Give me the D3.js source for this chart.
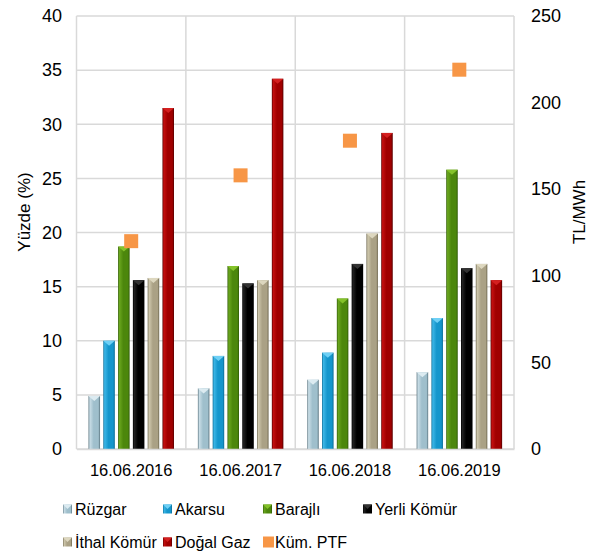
<!DOCTYPE html>
<html>
<head>
<meta charset="utf-8">
<script src="https://cdn.jsdelivr.net/npm/d3@7"></script>
<style>
  body { margin: 0; background: #fff; }
  svg { display: block; font-family: "Liberation Sans", Arial, sans-serif; }
</style>
</head>
<body>
<svg id="chart"></svg>
<script>
// data
const categories = ['16.06.2016', '16.06.2017', '16.06.2018', '16.06.2019']
const seriesNames = ['Rüzgar', 'Akarsu', 'Barajlı', 'Yerli Kömür', 'İthal Kömür', 'Doğal Gaz']
const ruzgar = [4.9, 5.6, 6.4, 7.1]
const akarsu = [10.0, 8.6, 8.9, 12.1]
const barajli = [18.7, 16.9, 13.9, 25.8]
const yerliKomur = [15.6, 15.3, 17.1, 16.7]
const ithalKomur = [15.8, 15.6, 19.9, 17.1]
const dogalGaz = [31.5, 34.2, 29.2, 15.6]
const kumPtf = [120, 158, 178, 219]
const leftTicks = [0, 5, 10, 15, 20, 25, 30, 35, 40]
const rightTicks = [0, 50, 100, 150, 200, 250]

const seriesValues = [ruzgar, akarsu, barajli, yerliKomur, ithalKomur, dogalGaz]
// colours: [light, main, dark, cap]
const colors = [
  ['#c9dde6', '#9fbfcc', '#5d7782', '#dcebf1'],
  ['#3cb6e6', '#1596cc', '#0b6a94', '#6fd0f5'],
  ['#6aa61e', '#4c870c', '#2f5a06', '#84c22a'],
  ['#222', '#000', '#000', '#333'],
  ['#cfc8ad', '#aaa185', '#6f6850', '#ddd7bf'],
  ['#c41010', '#a00000', '#560000', '#d42020']
]
const ptfColor = '#f79646'

let width = 610
let height = 554
let plotLeft = 76.5, plotRight = 514, plotTop = 16, plotBottom = 449
let fontFam = '"Liberation Sans", Arial, sans-serif'

let svg = d3.select('#chart').attr('width', width).attr('height', height)
let defs = svg.append('defs')

colors.forEach((c, i) => {
  let g = defs.append('linearGradient').attr('id', 'grad' + i)
    .attr('x1', '0%').attr('x2', '100%').attr('y1', '0%').attr('y2', '0%')
  g.append('stop').attr('offset', '0%').attr('stop-color', c[2])
  g.append('stop').attr('offset', '12%').attr('stop-color', c[0])
  g.append('stop').attr('offset', '45%').attr('stop-color', c[1])
  g.append('stop').attr('offset', '85%').attr('stop-color', c[1])
  g.append('stop').attr('offset', '100%').attr('stop-color', c[2])
})

let x0 = d3.scaleBand().domain(categories).range([plotLeft, plotRight])
let x1 = d3.scaleBand().domain(seriesNames).range([12, 97.5]).paddingInner(0.22)
let yL = d3.scaleLinear().domain([0, 40]).range([plotBottom, plotTop])
let yR = d3.scaleLinear().domain([0, 250]).range([plotBottom, plotTop])

// grid
let grid = svg.append('g')
grid.selectAll('line.h').data(leftTicks).enter().append('line')
  .attr('x1', plotLeft).attr('x2', plotRight)
  .attr('y1', d => yL(d)).attr('y2', d => yL(d))
  .attr('stroke', '#d9d9d9').attr('stroke-width', 1.5)
grid.selectAll('line.v').data(categories.concat(['end'])).enter().append('line')
  .attr('x1', (d, i) => i < categories.length ? x0(d) : plotRight)
  .attr('x2', (d, i) => i < categories.length ? x0(d) : plotRight)
  .attr('y1', plotTop).attr('y2', plotBottom)
  .attr('stroke', '#d9d9d9').attr('stroke-width', 1.5)

// bars
let groups = svg.selectAll('g.cat').data(categories).enter().append('g')
  .attr('transform', d => 'translate(' + x0(d) + ',0)')

groups.each(function (cat, ci) {
  let g = d3.select(this)
  seriesNames.forEach((s, si) => {
    let v = seriesValues[si][ci]
    let bx = x1(s), bw = x1.bandwidth(), by = yL(v)
    g.append('rect')
      .attr('x', bx).attr('y', by)
      .attr('width', bw).attr('height', yL(0) - by)
      .attr('fill', 'url(#grad' + si + ')')
    g.append('path')
      .attr('d', 'M' + bx + ',' + by + 'L' + (bx + bw) + ',' + by + 'L' + (bx + bw / 2) + ',' + (by + 5) + 'Z')
      .attr('fill', colors[si][3])
  })
})

// PTF markers
svg.selectAll('rect.ptf').data(kumPtf).enter().append('rect')
  .attr('x', (d, i) => x0(categories[i]) + x0.bandwidth() / 2 - 7)
  .attr('y', d => yR(d) - 7)
  .attr('width', 14).attr('height', 14)
  .attr('fill', ptfColor)

// axes
let yAxisL = d3.axisLeft(yL).tickValues(leftTicks).tickSize(0).tickPadding(0)
let gl = svg.append('g').attr('transform', 'translate(62,0)').call(yAxisL)
gl.select('.domain').remove()
gl.selectAll('text').attr('font-size', 18).attr('fill', '#000').attr('font-family', fontFam)

let yAxisR = d3.axisRight(yR).tickValues(rightTicks).tickSize(0).tickPadding(0)
let gr = svg.append('g').attr('transform', 'translate(531,0)').call(yAxisR)
gr.select('.domain').remove()
gr.selectAll('text').attr('font-size', 18).attr('fill', '#000').attr('font-family', fontFam)

let xAxis = d3.axisBottom(x0).tickSize(0).tickPadding(15)
let gx = svg.append('g').attr('transform', 'translate(0,' + plotBottom + ')').call(xAxis)
gx.select('.domain').attr('stroke', '#d9d9d9').attr('stroke-width', 1.5)
gx.selectAll('text').attr('font-size', 16.5).attr('fill', '#000').attr('font-family', fontFam)

// axis titles
svg.append('text').attr('transform', 'translate(30,212) rotate(-90)')
  .attr('text-anchor', 'middle').attr('font-size', 17).text('Yüzde (%)')
svg.append('text').attr('transform', 'translate(585,212) rotate(-90)')
  .attr('text-anchor', 'middle').attr('font-size', 17).text('TL/MWh')

// legend
let legendItems = seriesNames.map((s, i) => ({ name: s, fill: 'url(#grad' + i + ')', cap: colors[i][3], size: 9 }))
legendItems.push({ name: 'Küm. PTF', fill: ptfColor, cap: null, size: 11 })
let legendX = [63, 163, 263, 363]
let legendY = [509, 542]
let lg = svg.selectAll('g.legend').data(legendItems).enter().append('g')
  .attr('transform', (d, i) => 'translate(' + legendX[i % 4] + ',' + legendY[Math.floor(i / 4)] + ')')
lg.append('rect')
  .attr('x', 0).attr('y', d => -d.size / 2)
  .attr('width', d => d.size).attr('height', d => d.size)
  .attr('fill', d => d.fill)
lg.filter(d => d.cap).append('path')
  .attr('d', 'M0,-4.5L9,-4.5L4.5,0Z')
  .attr('fill', d => d.cap)
lg.append('text').attr('x', 12).attr('dy', '0.35em').attr('font-size', 16).text(d => d.name)
</script>
</body>
</html>
